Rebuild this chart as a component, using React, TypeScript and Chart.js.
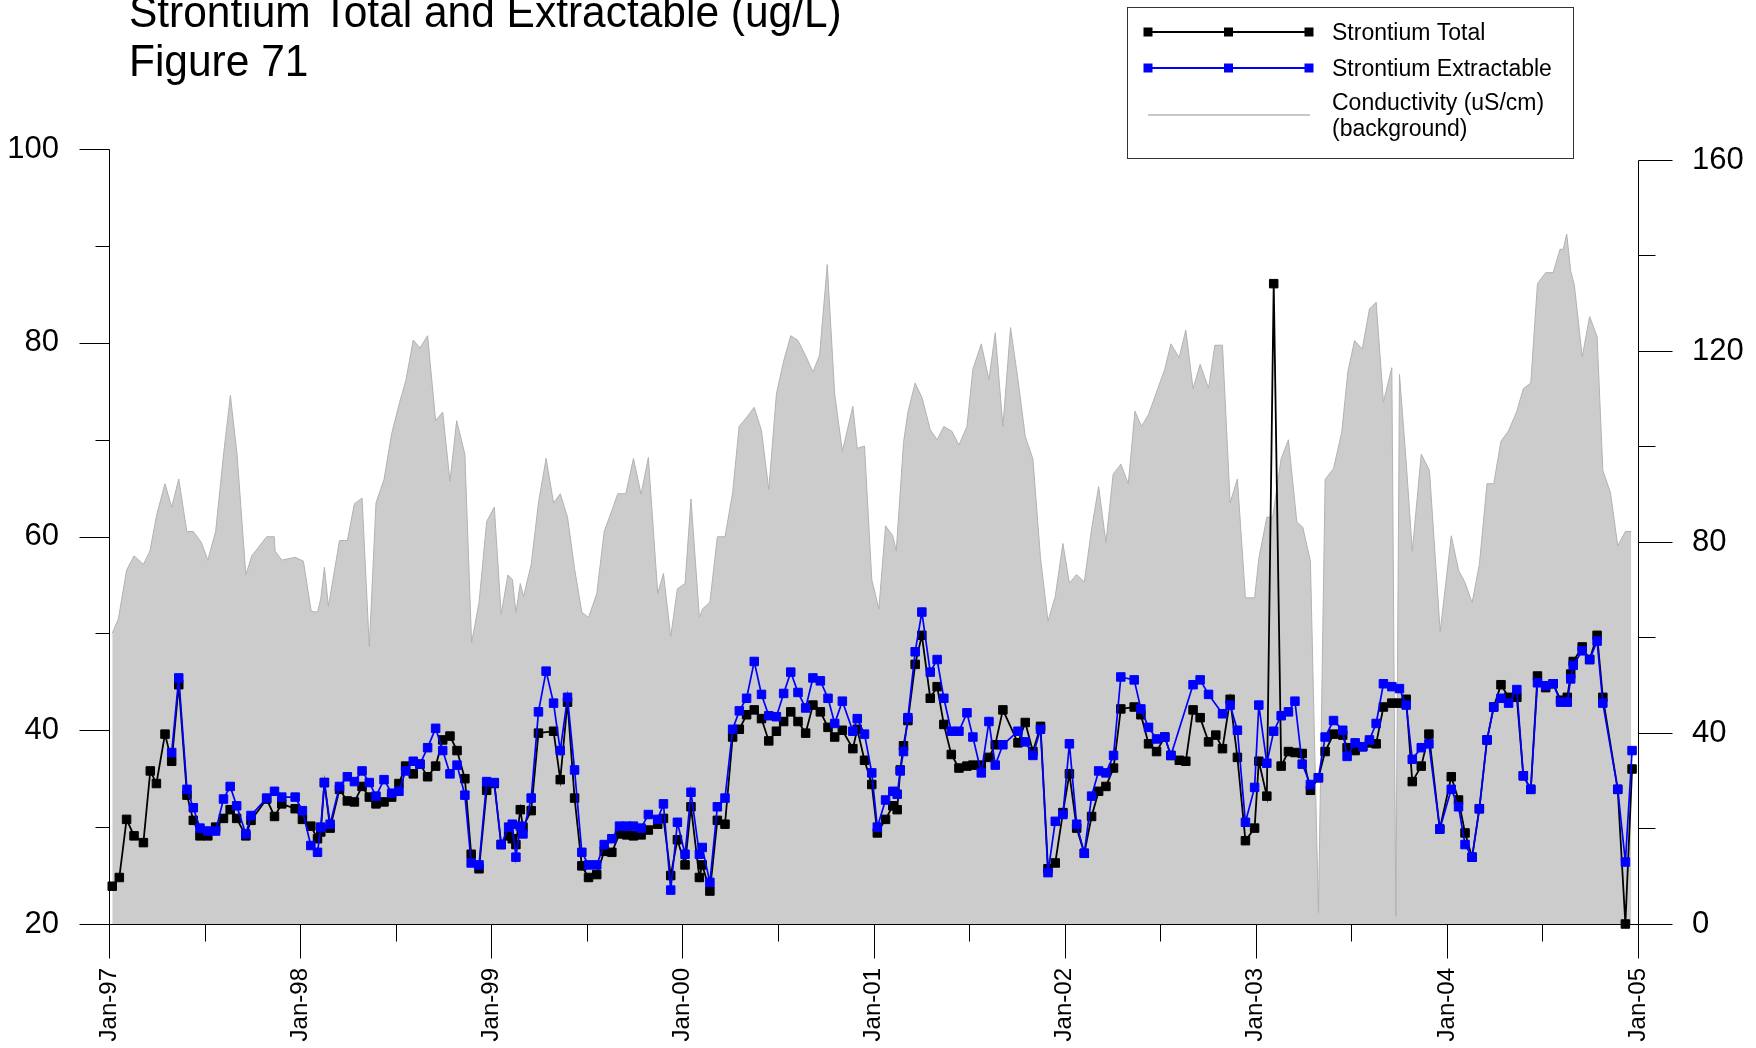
import React, { useEffect, useRef } from 'react';
import { Chart, registerables } from 'chart.js';

Chart.register(...registerables);

const FONT = '"Liberation Sans", Arial, Helvetica, sans-serif';

// ---------- titles / legend text ----------
const titleLines = ['Strontium Total and Extractable (ug/L)', 'Figure 71'];
const legendLabels = ['Strontium Total', 'Strontium Extractable', 'Conductivity (uS/cm)', '(background)'];

// ---------- axes ----------
const xMajorYears = [1997, 1998, 1999, 2000, 2001, 2002, 2003, 2004, 2005];
const xTickLabels = ['Jan-97', 'Jan-98', 'Jan-99', 'Jan-00', 'Jan-01', 'Jan-02', 'Jan-03', 'Jan-04', 'Jan-05'];
const leftTickValues = [20, 30, 40, 50, 60, 70, 80, 90, 100];
const leftLabelValues = [20, 40, 60, 80, 100];
const rightTickValues = [0, 20, 40, 60, 80, 100, 120, 140, 160];
const rightLabelValues = [0, 40, 80, 120, 160];

// ---------- strontium data (decimal year) ----------
const srDates = [
  1997.017, 1997.054, 1997.092, 1997.131, 1997.18, 1997.216, 1997.248, 1997.293, 1997.328, 1997.365,
  1997.408, 1997.441, 1997.476, 1997.517, 1997.558, 1997.599, 1997.634, 1997.668, 1997.716, 1997.743,
  1997.825, 1997.866, 1997.904, 1997.974, 1998.012, 1998.056, 1998.091, 1998.108, 1998.127, 1998.157,
  1998.206, 1998.247, 1998.284, 1998.324, 1998.362, 1998.397, 1998.439, 1998.479, 1998.517, 1998.552,
  1998.592, 1998.627, 1998.667, 1998.709, 1998.746, 1998.784, 1998.821, 1998.862, 1998.895, 1998.936,
  1998.976, 1999.016, 1999.052, 1999.091, 1999.11, 1999.129, 1999.152, 1999.166, 1999.209, 1999.247,
  1999.287, 1999.326, 1999.361, 1999.399, 1999.436, 1999.474, 1999.509, 1999.552, 1999.591, 1999.631,
  1999.671, 1999.709, 1999.744, 1999.784, 1999.822, 1999.871, 1999.901, 1999.939, 1999.974, 2000.014,
  2000.045, 2000.089, 2000.104, 2000.144, 2000.183, 2000.223, 2000.263, 2000.298, 2000.336, 2000.376,
  2000.414, 2000.452, 2000.492, 2000.53, 2000.567, 2000.605, 2000.645, 2000.683, 2000.722, 2000.762,
  2000.797, 2000.837, 2000.892, 2000.915, 2000.953, 2000.991, 2001.02, 2001.063, 2001.101, 2001.124,
  2001.14, 2001.157, 2001.18, 2001.218, 2001.253, 2001.297, 2001.333, 2001.368, 2001.407, 2001.447,
  2001.489, 2001.52, 2001.564, 2001.604, 2001.637, 2001.677, 2001.756, 2001.794, 2001.834, 2001.874,
  2001.913, 2001.951, 2001.991, 2002.025, 2002.063, 2002.103, 2002.141, 2002.178, 2002.216, 2002.256,
  2002.294, 2002.364, 2002.399, 2002.439, 2002.481, 2002.524, 2002.556, 2002.6, 2002.634, 2002.672,
  2002.709, 2002.753, 2002.791, 2002.826, 2002.866, 2002.904, 2002.946, 2002.994, 2003.016, 2003.058,
  2003.094, 2003.133, 2003.171, 2003.205, 2003.243, 2003.286, 2003.328, 2003.363, 2003.407, 2003.455,
  2003.478, 2003.52, 2003.56, 2003.595, 2003.63, 2003.668, 2003.712, 2003.752, 2003.787, 2003.819,
  2003.866, 2003.906, 2003.963, 2004.023, 2004.061, 2004.095, 2004.132, 2004.17, 2004.21, 2004.245,
  2004.283, 2004.323, 2004.366, 2004.4, 2004.439, 2004.474, 2004.517, 2004.556, 2004.595, 2004.63,
  2004.648, 2004.661, 2004.708, 2004.747, 2004.786, 2004.816, 2004.894, 2004.934, 2004.969,
];

const srTotal = [
  23.9, 24.8, 30.8, 29.1, 28.4, 35.8, 34.5, 39.6, 36.8, 44.7,
  33.3, 30.7, 29.1, 29.1, 30.0, 30.9, 31.8, 30.9, 29.1, 30.7,
  32.9, 31.1, 32.4, 31.9, 30.8, 30.1, 28.8, 29.5, 34.6, 29.9,
  33.9, 32.7, 32.6, 34.2, 33.1, 32.4, 32.6, 33.1, 34.5, 36.3,
  35.5, 36.5, 35.2, 36.3, 39.0, 39.4, 37.9, 35.0, 27.2, 25.7,
  33.8, 34.5, 28.2, 29.1, 28.8, 28.2, 31.8, 30.0, 31.7, 39.7,
  null, 39.9, 34.9, 42.9, 33.0, 26.0, 24.8, 25.1, 27.5, 27.4,
  29.3, 29.2, 29.1, 29.2, 29.7, 30.3, 30.9, 25.0, 28.7, 26.1,
  32.1, 24.8, 26.1, 23.4, 30.7, 30.3, 39.3, 40.1, 41.6, 42.1,
  41.2, 38.9, 39.9, 40.9, 41.9, 40.9, 39.7, 42.6, 41.9, 40.3,
  39.3, 40.0, 38.1, 40.1, 36.9, 34.4, 29.4, 30.8, 32.2, 31.8,
  35.9, 38.4, 41.0, 46.8, 49.8, 43.3, 44.5, 40.6, 37.5, 36.1,
  36.3, 36.4, 36.4, 37.2, 38.5, 42.1, 38.7, 40.8, 37.8, 40.4,
  25.7, 26.3, 31.5, 35.5, 29.9, 27.3, 31.1, 33.7, 34.2, 36.1,
  42.2, 42.4, 41.6, 38.6, 37.8, 39.3, 37.4, 36.9, 36.8, 42.1,
  41.3, 38.8, 39.5, 38.1, 43.2, 37.2, 28.6, 29.9, 36.8, 33.2,
  86.1, 36.3, 37.8, 37.7, 37.6, 33.8, 35.1, 37.8, 39.6, 39.5,
  38.2, 37.9, 38.3, 38.7, 38.6, 42.4, 42.8, 42.8, 43.2, 34.7,
  36.3, 39.6, 29.8, 35.2, 32.8, 29.4, 26.9, 31.9, 39.0, 42.4,
  44.7, 43.4, 43.4, 35.3, 33.9, 45.6, 44.4, 44.8, 43.1, 43.4,
  45.8, 47.1, 48.6, 47.3, 49.8, 43.4, 33.9, 20.0, 36.0,
];

const srExtractable = [
  null, null, null, null, null, null, null, null, 37.7, 45.4,
  33.9, 32.0, 29.9, 29.6, 29.6, 32.9, 34.2, 32.2, 29.3, 31.2,
  33.0, 33.7, 33.1, 33.1, 31.7, 28.1, 27.4, 30.0, 34.6, 30.3,
  34.2, 35.2, 34.7, 35.8, 34.6, 33.2, 34.9, 33.5, 33.7, 35.8,
  36.8, 36.5, 38.2, 40.2, 37.9, 35.5, 36.4, 33.3, 26.3, 26.1,
  34.7, 34.6, 28.2, 30.0, 30.3, 26.9, 30.1, 29.3, 33.0, 41.9,
  46.1, 42.8, 37.9, 43.4, 35.9, 27.4, 26.1, 26.1, 28.2, 28.8,
  30.1, 30.1, 30.1, 29.9, 31.3, 30.8, 32.4, 23.5, 30.5, 27.2,
  33.6, 27.2, 27.9, 24.3, 32.1, 33.0, 40.1, 42.0, 43.3, 47.1,
  43.7, 41.5, 41.4, 43.8, 46.0, 43.9, 42.3, 45.4, 45.1, 43.3,
  40.7, 43.0, 39.9, 41.2, 39.6, 35.6, 30.0, 32.8, 33.7, 33.4,
  35.8, 37.8, 41.3, 48.1, 52.2, 46.0, 47.3, 43.3, 39.9, 39.9,
  41.8, 39.3, 35.6, 40.9, 36.4, 38.5, 39.9, 38.8, 37.4, 40.1,
  25.3, 30.6, 31.3, 38.6, 30.3, 27.3, 33.2, 35.8, 35.6, 37.4,
  45.5, 45.2, 42.2, 40.3, 39.1, 39.3, 37.4, null, null, 44.7,
  45.2, 43.7, null, 41.7, 42.6, 40.0, 30.5, 34.1, 42.6, 36.6,
  39.9, 41.5, 41.9, 43.0, 36.5, 34.4, 35.1, 39.3, 41.0, 40.0,
  37.3, 38.7, 38.3, 39.0, 40.7, 44.8, 44.5, 44.3, 42.6, 37.0,
  38.2, 38.6, 29.8, 33.9, 32.1, 28.2, 26.9, 31.9, 39.0, 42.4,
  43.3, 42.8, 44.2, 35.3, 33.9, 44.9, 44.6, 44.8, 42.9, 42.9,
  45.3, 46.7, 48.2, 47.3, 49.2, 42.8, 33.9, 26.4, 37.9,
];

// ---------- conductivity background (decimal year, uS/cm) ----------
const condDates = [
  1997.017, 1997.049, 1997.092, 1997.131, 1997.18, 1997.214, 1997.25, 1997.293, 1997.328, 1997.365,
  1997.407, 1997.441, 1997.482, 1997.517, 1997.558, 1997.599, 1997.635, 1997.67, 1997.716, 1997.747,
  1997.825, 1997.865, 1997.869, 1997.904, 1997.974, 1998.017, 1998.058, 1998.091, 1998.108, 1998.127,
  1998.148, 1998.206, 1998.247, 1998.284, 1998.324, 1998.362, 1998.397, 1998.439, 1998.479, 1998.519,
  1998.554, 1998.592, 1998.627, 1998.667, 1998.709, 1998.746, 1998.784, 1998.819, 1998.862, 1998.897,
  1998.936, 1998.976, 1999.016, 1999.052, 1999.087, 1999.111, 1999.129, 1999.152, 1999.169, 1999.209,
  1999.247, 1999.287, 1999.326, 1999.361, 1999.399, 1999.436, 1999.474, 1999.509, 1999.552, 1999.591,
  1999.631, 1999.662, 1999.704, 1999.744, 1999.784, 1999.822, 1999.871, 1999.901, 1999.939, 1999.974,
  2000.014, 2000.045, 2000.089, 2000.106, 2000.144, 2000.183, 2000.223, 2000.263, 2000.297, 2000.336,
  2000.376, 2000.414, 2000.452, 2000.492, 2000.53, 2000.567, 2000.605, 2000.645, 2000.683, 2000.718,
  2000.758, 2000.797, 2000.837, 2000.892, 2000.915, 2000.953, 2000.991, 2001.028, 2001.063, 2001.101,
  2001.119, 2001.157, 2001.18, 2001.218, 2001.255, 2001.297, 2001.333, 2001.368, 2001.41, 2001.447,
  2001.489, 2001.52, 2001.564, 2001.604, 2001.637, 2001.677, 2001.717, 2001.756, 2001.794, 2001.834,
  2001.874, 2001.913, 2001.951, 2001.991, 2002.025, 2002.063, 2002.103, 2002.141, 2002.178, 2002.216,
  2002.254, 2002.294, 2002.333, 2002.368, 2002.402, 2002.439, 2002.481, 2002.524, 2002.556, 2002.599,
  2002.634, 2002.672, 2002.709, 2002.753, 2002.786, 2002.826, 2002.866, 2002.904, 2002.946, 2002.994,
  2003.016, 2003.058, 2003.089, 2003.133, 2003.171, 2003.215, 2003.246, 2003.286, 2003.328, 2003.363,
  2003.407, 2003.45, 2003.482, 2003.517, 2003.557, 2003.595, 2003.63, 2003.668, 2003.712, 2003.733,
  2003.752, 2003.787, 2003.819, 2003.866, 2003.909, 2003.965, 2004.023, 2004.061, 2004.095, 2004.132,
  2004.17, 2004.21, 2004.245, 2004.283, 2004.323, 2004.366, 2004.4, 2004.439, 2004.474, 2004.517,
  2004.556, 2004.592, 2004.609, 2004.627, 2004.648, 2004.667, 2004.708, 2004.747, 2004.786, 2004.816,
  2004.856, 2004.894, 2004.934, 2004.965,
];

const condValues = [
  60.9, 63.9, 74.1, 77.1, 75.3, 78.1, 85.8, 92.2, 87.3, 93.2,
  82.2, 82.2, 80.0, 76.2, 82.2, 98.2, 110.7, 98.4, 73.1, 77.1,
  81.1, 81.1, 78.1, 76.2, 76.8, 76.0, 65.5, 65.3, 68.1, 74.7,
  66.5, 80.3, 80.3, 88.0, 89.2, 58.1, 88.2, 93.1, 102.7, 109.0,
  114.0, 122.3, 120.6, 123.2, 105.4, 107.2, 92.7, 105.4, 98.4, 58.9,
  67.3, 84.3, 87.3, 64.9, 73.1, 72.1, 65.2, 71.3, 68.6, 75.3,
  88.2, 97.5, 88.2, 90.1, 85.2, 74.4, 65.3, 64.2, 69.2, 82.2,
  86.6, 90.1, 90.1, 97.5, 90.0, 97.7, 69.2, 73.4, 60.2, 70.2,
  71.3, 89.0, 64.2, 66.0, 67.4, 81.1, 81.1, 90.3, 104.2, 106.1,
  108.2, 103.3, 91.0, 111.0, 117.9, 123.2, 122.2, 119.0, 115.6, 119.1,
  138.1, 111.0, 99.0, 108.4, 99.6, 100.1, 72.1, 66.0, 83.4, 81.3,
  78.1, 100.8, 107.2, 113.3, 110.1, 103.5, 101.4, 104.2, 103.2, 100.3,
  104.2, 116.2, 121.5, 114.0, 123.8, 104.2, 124.9, 114.0, 102.1, 97.4,
  76.6, 63.4, 68.6, 79.7, 71.4, 73.2, 71.6, 82.7, 91.6, 79.9,
  94.2, 96.3, 92.2, 107.4, 104.2, 106.7, 111.4, 116.2, 121.5, 118.6,
  124.4, 112.1, 117.2, 112.2, 121.2, 121.2, 88.2, 93.2, 68.3, 68.3,
  76.5, 85.2, 85.2, 97.5, 101.4, 84.2, 83.1, 76.0, 2.4, 93.1,
  95.4, 103.0, 115.6, 122.2, 120.4, 128.8, 130.2, 109.3, 116.5, 1.6,
  115.1, 96.8, 78.1, 98.4, 95.0, 61.2, 81.3, 74.1, 71.5, 67.3,
  75.3, 92.2, 92.2, 101.1, 103.3, 107.4, 112.1, 113.3, 134.1, 136.4,
  136.4, 141.3, 141.3, 144.5, 136.7, 133.8, 118.8, 127.2, 123.0, 95.0,
  90.3, 79.2, 82.2, 82.2,
];

const BLUE = '#0000ff';
const BLACK = '#000000';
const AREA_FILL = '#cccccc';
const AREA_EDGE = '#b2b2b2';

const frameAndTicks = {
  id: 'frameAndTicks',
  afterDatasetsDraw(chart: any) {
    const { ctx, scales } = chart;
    const xs = scales.x;
    const yl = scales.y;
    const yr = scales.y1;
    const px = (v: number) => Math.round(v) + 0.5;
    const bottom = px(yl.getPixelForValue(leftTickValues[0]));
    const left = px(xs.getPixelForValue(xMajorYears[0]));
    const right = px(xs.getPixelForValue(xMajorYears[xMajorYears.length - 1]));
    ctx.save();
    ctx.strokeStyle = '#000';
    ctx.lineWidth = 1;
    ctx.beginPath();
    ctx.moveTo(left, px(yl.getPixelForValue(leftTickValues[leftTickValues.length - 1])));
    ctx.lineTo(left, bottom);
    ctx.lineTo(right, bottom);
    ctx.moveTo(right, px(yr.getPixelForValue(rightTickValues[rightTickValues.length - 1])));
    ctx.lineTo(right, bottom);
    xMajorYears.forEach((yv, i) => {
      const p = px(xs.getPixelForValue(yv));
      ctx.moveTo(p, bottom);
      ctx.lineTo(p, bottom + 34);
      if (i < xMajorYears.length - 1) {
        const m = px(xs.getPixelForValue(yv + 0.5));
        ctx.moveTo(m, bottom);
        ctx.lineTo(m, bottom + 17);
      }
    });
    leftTickValues.forEach((v) => {
      const p = px(yl.getPixelForValue(v));
      const len = leftLabelValues.includes(v) ? 30 : 14;
      ctx.moveTo(left - len, p);
      ctx.lineTo(left, p);
    });
    rightTickValues.forEach((v) => {
      const p = px(yr.getPixelForValue(v));
      const len = rightLabelValues.includes(v) ? 34 : 17;
      ctx.moveTo(right, p);
      ctx.lineTo(right + len, p);
    });
    ctx.stroke();
    ctx.restore();
  },
};

const titleAndLegend = {
  id: 'titleAndLegend',
  afterDraw(chart: any) {
    const { ctx } = chart;
    ctx.save();
    // title
    ctx.fillStyle = '#000';
    ctx.textAlign = 'left';
    ctx.textBaseline = 'alphabetic';
    ctx.font = `44px ${FONT}`;
    ctx.save();
    ctx.translate(129, 0);
    ctx.scale(0.965, 1);
    ctx.fillText(titleLines[0], 0, 27);
    ctx.fillText(titleLines[1], 0, 76);
    ctx.restore();

    // legend box
    ctx.strokeStyle = '#333';
    ctx.lineWidth = 1;
    ctx.strokeRect(1127.5, 7.5, 446, 151);

    const x0 = 1148;
    const x1 = 1309;
    const xm = (x0 + x1) / 2;
    const drawSeries = (y: number, color: string) => {
      ctx.strokeStyle = color;
      ctx.lineWidth = 1.8;
      ctx.beginPath();
      ctx.moveTo(x0, y);
      ctx.lineTo(x1, y);
      ctx.stroke();
      ctx.fillStyle = color;
      [x0, xm, x1].forEach((mx) => ctx.fillRect(mx - 4.5, y - 4.5, 9, 9));
    };
    drawSeries(32, BLACK);
    drawSeries(68, BLUE);
    ctx.strokeStyle = '#c8c8c8';
    ctx.lineWidth = 2;
    ctx.beginPath();
    ctx.moveTo(x0, 115);
    ctx.lineTo(x1 + 1, 115);
    ctx.stroke();

    ctx.fillStyle = '#000';
    ctx.font = `23px ${FONT}`;
    ctx.fillText(legendLabels[0], 1332, 40);
    ctx.fillText(legendLabels[1], 1332, 76);
    ctx.fillText(legendLabels[2], 1332, 110);
    ctx.fillText(legendLabels[3], 1332, 136);
    ctx.restore();
  },
};

export default function App() {
  const ref = useRef<HTMLCanvasElement | null>(null);

  useEffect(() => {
    document.body.style.margin = '0';
    const canvas = ref.current;
    if (!canvas) return;

    const totalPts = srDates.map((d, i) => ({ x: d, y: srTotal[i] }));
    const extractPts = srDates.map((d, i) => ({ x: d, y: srExtractable[i] }));
    const condPts = condDates.map((d, i) => ({ x: d, y: condValues[i] }));

    const chart = new Chart(canvas, {
      type: 'line',
      data: {
        datasets: [
          {
            label: 'Strontium Extractable',
            data: extractPts as any,
            yAxisID: 'y',
            borderColor: BLUE,
            backgroundColor: BLUE,
            borderWidth: 1.7,
            pointStyle: 'rect',
            pointRadius: 6,
            pointBorderWidth: 1,
            pointBackgroundColor: BLUE,
            pointBorderColor: BLUE,
            spanGaps: true,
            tension: 0,
            clip: false as any,
            order: 0,
          },
          {
            label: 'Strontium Total',
            data: totalPts as any,
            yAxisID: 'y',
            borderColor: BLACK,
            backgroundColor: BLACK,
            borderWidth: 1.8,
            pointStyle: 'rect',
            pointRadius: 6,
            pointBorderWidth: 1,
            pointBackgroundColor: BLACK,
            pointBorderColor: BLACK,
            spanGaps: true,
            tension: 0,
            clip: false as any,
            order: 1,
          },
          {
            label: 'Conductivity (uS/cm) (background)',
            data: condPts as any,
            yAxisID: 'y1',
            borderColor: AREA_EDGE,
            backgroundColor: AREA_FILL,
            borderWidth: 1,
            pointRadius: 0,
            fill: 'origin',
            tension: 0,
            order: 2,
          },
        ],
      },
      options: {
        responsive: false,
        animation: false,
        devicePixelRatio: 1,
        events: [],
        layout: { padding: { top: 149, left: 0, right: 0, bottom: 0 } },
        plugins: {
          legend: { display: false },
          title: { display: false },
          tooltip: { enabled: false },
        },
        scales: {
          x: {
            type: 'linear',
            position: 'bottom',
            min: xMajorYears[0],
            max: xMajorYears[xMajorYears.length - 1],
            grid: { display: false, drawTicks: false },
            border: { display: false },
            afterBuildTicks: (s: any) => {
              s.ticks = xMajorYears.map((v) => ({ value: v }));
            },
            afterFit: (s: any) => {
              s.height = 124;
            },
            ticks: {
              autoSkip: false,
              minRotation: 90,
              maxRotation: 90,
              padding: 44,
              color: '#000',
              font: { family: FONT, size: 24 },
              callback: (v: any) => {
                const i = xMajorYears.indexOf(Number(v));
                return i >= 0 ? xTickLabels[i] : '';
              },
            },
          },
          y: {
            type: 'linear',
            position: 'left',
            min: leftTickValues[0],
            max: leftTickValues[leftTickValues.length - 1],
            grid: { display: false, drawTicks: false },
            border: { display: false },
            afterBuildTicks: (s: any) => {
              s.ticks = leftTickValues.map((v) => ({ value: v }));
            },
            afterFit: (s: any) => {
              s.width = 109;
            },
            ticks: {
              autoSkip: false,
              padding: 50,
              color: '#000',
              font: { family: FONT, size: 31 },
              callback: (v: any) => (leftLabelValues.includes(Number(v)) ? String(v) : ''),
            },
          },
          y1: {
            type: 'linear',
            position: 'right',
            min: 0,
            max: 162.3,
            grid: { display: false, drawTicks: false },
            border: { display: false },
            afterBuildTicks: (s: any) => {
              s.ticks = rightTickValues.map((v) => ({ value: v }));
            },
            afterFit: (s: any) => {
              s.width = 118;
            },
            ticks: {
              autoSkip: false,
              padding: 54,
              color: '#000',
              font: { family: FONT, size: 31 },
              callback: (v: any) => (rightLabelValues.includes(Number(v)) ? String(v) : ''),
            },
          },
        },
      } as any,
      plugins: [frameAndTicks, titleAndLegend],
    });

    return () => chart.destroy();
  }, []);

  return (
    <div style={{ position: 'absolute', left: 0, top: 0, width: 1756, height: 1048, background: '#fff' }}>
      <canvas ref={ref} width={1756} height={1048} style={{ display: 'block', width: 1756, height: 1048 }} />
    </div>
  );
}
